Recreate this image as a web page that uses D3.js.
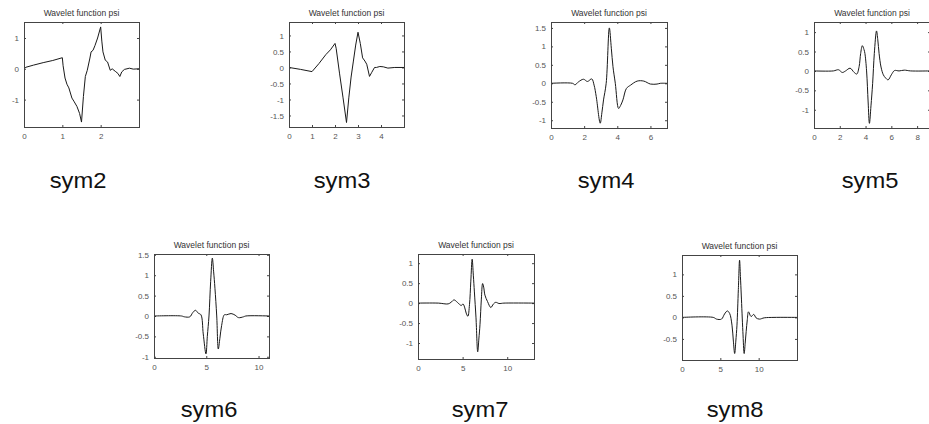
<!DOCTYPE html>
<html>
<head>
<meta charset="utf-8">
<script src="https://cdn.jsdelivr.net/npm/d3@7"></script>
<style>
  html, body { margin: 0; padding: 0; background: #fff; }
  svg { display: block; }
  text { font-family: "Liberation Sans", Arial, sans-serif; }
</style>
</head>
<body>
<svg id="chart" width="929" height="424"></svg>
<script>
// ---------- data ----------
const names = ["sym2", "sym3", "sym4", "sym5", "sym6", "sym7", "sym8"];
const titleText = "Wavelet function psi";

const xDomains = [[0, 3], [0, 5], [0, 7], [0, 9], [0, 11], [0, 13], [0, 15]];
const yDomains = [[-1.89, 1.52], [-1.86, 1.42], [-1.21, 1.66], [-1.47, 1.26], [-1.03, 1.52], [-1.4, 1.23], [-0.99, 1.45]];

const xTicks = [[0, 1, 2], [0, 1, 2, 3, 4], [0, 2, 4, 6], [0, 2, 4, 6, 8], [0, 5, 10], [0, 5, 10], [0, 5, 10]];
const yTicks = [
  [-1, 0, 1],
  [-1.5, -1, -0.5, 0, 0.5, 1],
  [-1, -0.5, 0, 0.5, 1, 1.5],
  [-1, -0.5, 0, 0.5, 1],
  [-1, -0.5, 0, 0.5, 1, 1.5],
  [-1, -0.5, 0, 0.5, 1],
  [-0.5, 0, 0.5, 1]
];

const sym2 = [[0,0],[0.05,0.05],[0.25,0.12],[0.5,0.2],[0.75,0.27],[1.0,0.36],[1.02,0.1],[1.07,-0.3],[1.12,-0.5],[1.17,-0.62],[1.25,-0.95],[1.3,-1.05],[1.38,-1.22],[1.45,-1.45],[1.5,-1.73],[1.55,-0.9],[1.6,-0.25],[1.65,-0.05],[1.72,0.35],[1.75,0.55],[1.8,0.6],[1.85,0.75],[1.92,1.0],[2.0,1.36],[2.03,0.9],[2.06,0.55],[2.12,0.28],[2.18,0.22],[2.25,-0.05],[2.3,0.0],[2.38,-0.08],[2.45,-0.15],[2.5,-0.25],[2.55,-0.1],[2.62,-0.02],[2.75,0.02],[2.85,-0.01],[3,0]];
const sym3 = [[0,0],[0.5,-0.06],[1.0,-0.13],[1.3,0.12],[1.6,0.4],[1.8,0.55],[2.0,0.75],[2.05,0.6],[2.2,-0.2],[2.35,-0.95],[2.5,-1.72],[2.6,-0.95],[2.7,-0.3],[2.8,0.2],[2.9,0.7],[3.0,1.1],[3.1,0.75],[3.2,0.3],[3.3,0.2],[3.38,0.1],[3.5,-0.28],[3.6,-0.15],[3.72,0.0],[3.8,0.0],[3.95,0.03],[4.1,0.02],[4.3,-0.02],[4.6,0],[5,0]];
const sym4 = [[0,0],[1.3,0],[1.45,-0.04],[1.66,0.04],[1.96,0.11],[2.2,0.05],[2.46,0.12],[2.6,-0.05],[2.73,-0.36],[2.97,-1.08],[3.07,-0.8],[3.17,-0.45],[3.33,0],[3.52,1.5],[3.64,0.95],[3.74,0.45],[3.88,0],[4.08,-0.68],[4.2,-0.6],[4.34,-0.45],[4.55,-0.14],[4.8,-0.05],[5.2,0.06],[5.6,0.06],[6.0,-0.02],[6.4,-0.02],[6.6,0],[7,0]];
const sym5 = [[0,0],[1.5,0],[1.9,0.03],[2.2,-0.04],[2.45,0],[2.8,0.07],[3.12,-0.04],[3.32,-0.08],[3.5,0.11],[3.62,0.45],[3.75,0.65],[3.88,0.55],[3.95,0.45],[4.08,0],[4.2,-0.8],[4.3,-1.35],[4.42,-0.9],[4.55,-0.32],[4.68,0.45],[4.85,1.03],[4.95,0.8],[5.05,0.45],[5.2,0.1],[5.38,-0.1],[5.55,-0.18],[5.75,-0.23],[6.0,-0.1],[6.25,0.01],[6.6,0],[7.0,0.02],[7.5,0],[9,0]];
const sym6 = [[0,0],[2.63,0],[2.9,-0.02],[3.43,-0.02],[3.7,0.08],[3.97,0.14],[4.23,0.07],[4.49,0.03],[4.71,-0.44],[4.97,-0.93],[5.1,-0.5],[5.26,0],[5.42,0.85],[5.58,1.42],[5.7,1.1],[5.83,0.68],[6.0,0],[6.15,-0.81],[6.3,-0.55],[6.47,-0.23],[6.73,0.03],[6.96,0.03],[7.37,0.06],[7.76,0.02],[8.08,-0.04],[8.56,-0.02],[8.78,0],[11,0]];
const sym7 = [[0,0],[2.28,0],[3.38,-0.02],[3.7,0.02],[4.04,0.08],[4.41,0.02],[4.85,-0.06],[5.04,-0.02],[5.22,-0.1],[5.4,-0.25],[5.59,-0.33],[5.77,-0.04],[5.92,0.55],[6.07,1.1],[6.2,0.7],[6.32,0.28],[6.5,-0.37],[6.69,-1.22],[6.82,-0.9],[6.95,-0.53],[7.1,0.1],[7.24,0.49],[7.36,0.4],[7.5,0.2],[7.79,0.04],[8.16,-0.11],[8.46,-0.02],[8.71,0.02],[9.08,-0.01],[9.63,0],[13,0]];
const sym8 = [[0,0],[4.08,0],[4.51,-0.04],[5.15,-0.04],[5.55,0.08],[5.92,0.15],[6.22,0.09],[6.52,-0.18],[6.7,-0.55],[6.87,-0.84],[7.02,-0.55],[7.17,-0.18],[7.35,0.65],[7.51,1.33],[7.62,0.95],[7.73,0.52],[7.94,-0.33],[8.11,-0.84],[8.24,-0.6],[8.37,-0.33],[8.52,-0.05],[8.67,0.13],[9.01,0.02],[9.36,0.07],[9.66,-0.01],[10.09,-0.04],[10.73,-0.01],[12.0,0],[15,0]];
const psiSeries = [sym2, sym3, sym4, sym5, sym6, sym7, sym8];

// ---------- layout ----------
const frames = [
  {x: 24,  y: 22,  w: 115, h: 105, labelX: 78,  labelY: 188, smooth: false},
  {x: 289, y: 22,  w: 115, h: 105, labelX: 342, labelY: 188, smooth: false},
  {x: 551, y: 22,  w: 116, h: 106, labelX: 606, labelY: 188, smooth: true},
  {x: 814, y: 22,  w: 116, h: 106, labelX: 870, labelY: 188, smooth: true},
  {x: 154, y: 254, w: 115, h: 104, labelX: 209, labelY: 417, smooth: true},
  {x: 418, y: 254, w: 116, h: 105, labelX: 480, labelY: 417, smooth: true},
  {x: 682, y: 255, w: 115, h: 105, labelX: 735, labelY: 417, smooth: true}
];

const svg = d3.select("#chart");
const fmt = d => String(d);

names.forEach((name, i) => {
  const f = frames[i];
  const x = d3.scaleLinear().domain(xDomains[i]).range([0, f.w]);
  const y = d3.scaleLinear().domain(yDomains[i]).range([f.h, 0]);
  const g = svg.append("g").attr("transform", `translate(${f.x},${f.y})`);

  const tickStyle = sel => {
    sel.select(".domain").remove();
    sel.selectAll(".tick line").attr("stroke", "#444").attr("stroke-width", 1);
    sel.selectAll(".tick text").attr("fill", "#555").style("font-size", "8px")
      .style("font-family", "'Liberation Sans', Arial, sans-serif");
  };
  g.append("g").attr("transform", `translate(0,${f.h})`)
    .call(d3.axisBottom(x).tickValues(xTicks[i]).tickFormat(fmt).tickSizeInner(-2).tickSizeOuter(0).tickPadding(6))
    .call(tickStyle);
  g.append("g")
    .call(d3.axisTop(x).tickValues(xTicks[i]).tickFormat("").tickSizeInner(-2).tickSizeOuter(0))
    .call(tickStyle);
  g.append("g")
    .call(d3.axisLeft(y).tickValues(yTicks[i]).tickFormat(fmt).tickSizeInner(-2).tickSizeOuter(0).tickPadding(5))
    .call(tickStyle);
  g.append("g").attr("transform", `translate(${f.w},0)`)
    .call(d3.axisRight(y).tickValues(yTicks[i]).tickFormat("").tickSizeInner(-2).tickSizeOuter(0))
    .call(tickStyle);

  const clipId = "clip" + i;
  g.append("clipPath").attr("id", clipId).append("rect")
    .attr("x", 0).attr("y", 0).attr("width", f.w).attr("height", f.h);
  const line = d3.line().x(d => x(d[0])).y(d => y(d[1]))
    .curve(f.smooth ? d3.curveCatmullRom.alpha(0.5) : d3.curveLinear);
  g.append("path")
    .datum(psiSeries[i])
    .attr("clip-path", `url(#${clipId})`)
    .attr("fill", "none")
    .attr("stroke", "#1a1a1a")
    .attr("stroke-width", 1)
    .attr("d", line);

  g.append("rect")
    .attr("x", 0.5).attr("y", 0.5).attr("width", f.w).attr("height", f.h)
    .attr("fill", "none").attr("stroke", "#444").attr("stroke-width", 1);

  g.append("text")
    .attr("x", f.w / 2).attr("y", -6)
    .attr("text-anchor", "middle")
    .attr("fill", "#333")
    .style("font-size", "8.5px")
    .text(titleText);

  svg.append("text")
    .attr("transform", `translate(${f.labelX},${f.labelY}) scale(1.08,1)`)
    .attr("text-anchor", "middle")
    .attr("fill", "#111")
    .style("font-size", "22px")
    .text(name);
});
</script>
</body>
</html>
